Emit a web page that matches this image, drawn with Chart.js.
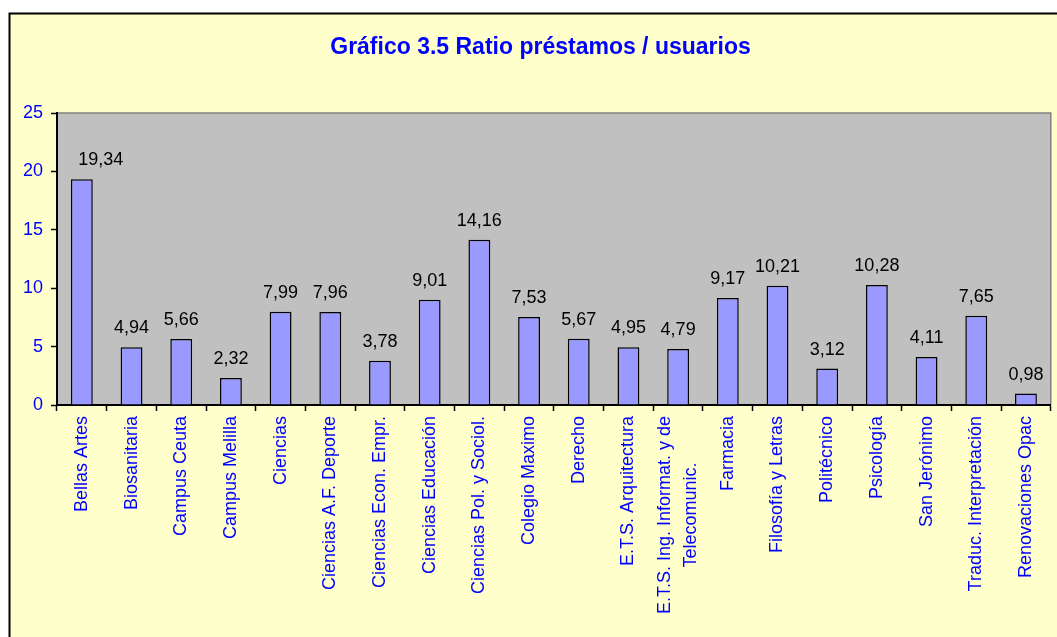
<!DOCTYPE html>
<html>
<head>
<meta charset="utf-8">
<script src="https://cdn.jsdelivr.net/npm/chart.js@4/dist/chart.umd.min.js"></script>
<style>
html,body{margin:0;padding:0;background:#fff;}
canvas{display:block;}
</style>
</head>
<body>
<canvas id="c" width="1057" height="637"></canvas>
<script>
const titleText = "Gráfico 3.5 Ratio préstamos / usuarios";
const categories = ["Bellas Artes","Biosanitaria","Campus Ceuta","Campus Melilla","Ciencias","Ciencias A.F. Deporte","Ciencias Econ. Empr.","Ciencias Educación","Ciencias Pol. y Sociol.","Colegio Maximo","Derecho","E.T.S. Arquitectura",["E.T.S. Ing. Informat. y de","Telecomunic."],"Farmacia","Filosofía y Letras","Politécnico","Psicología","San Jerónimo","Traduc. Interpretación","Renovaciones Opac"];
const ratios = [19.34,4.94,5.66,2.32,7.99,7.96,3.78,9.01,14.16,7.53,5.67,4.95,4.79,9.17,10.21,3.12,10.28,4.11,7.65,0.98];
const yMin = 0, yMax = 25, yStep = 5;

const FONT = "'Liberation Sans', Arial, sans-serif";
const X_LINE_H = 26;

const framePlugin = {
  id: 'frame',
  afterLayout(chart) {
    // let the y tick labels extend left of the padded layout box
    const ys = chart.scales.y;
    if (ys) ys.left = 0;
  },
  beforeDraw(chart) {
    const ctx = chart.ctx, a = chart.chartArea;
    ctx.save();
    ctx.fillStyle = '#ffffff';
    ctx.fillRect(0, 0, chart.width, chart.height);
    ctx.fillStyle = '#FFFFCC';
    ctx.fillRect(9.5, 13.5, chart.width + 20, chart.height + 20);
    ctx.strokeStyle = '#000';
    ctx.lineWidth = 2;
    ctx.strokeRect(9.5, 13.5, chart.width + 20, chart.height + 20);
    ctx.fillStyle = '#C0C0C0';
    ctx.fillRect(a.left, a.top, a.right - a.left, a.bottom - a.top);
    ctx.strokeStyle = '#808080';
    ctx.lineWidth = 1.5;
    ctx.beginPath();
    ctx.moveTo(a.left, a.top);
    ctx.lineTo(a.right, a.top);
    ctx.lineTo(a.right, a.bottom);
    ctx.stroke();
    ctx.restore();

    // centre multi-line rotated category labels like the original
    try {
      const xs = chart.scales.x;
      const items = xs.getLabelItems(a);
      ctx.save();
      ctx.font = '18px ' + FONT;
      items.forEach(it => {
        if (Array.isArray(it.label) && it.label.length > 1 && !it._adj) {
          const w1 = ctx.measureText(it.label[0]).width;
          const n = it.label.length;
          it.options.translation[0] -= (n - 1) * X_LINE_H / 2;
          it.options.translation[1] += w1 / 2;
          it.options.textAlign = 'center';
          it._adj = true;
        }
      });
      ctx.restore();
    } catch (e) {}
  }
};

const valueLabels = {
  id: 'valueLabels',
  afterDatasetsDraw(chart, args, opts) {
    const ctx = chart.ctx;
    const meta = chart.getDatasetMeta(0);
    ctx.save();
    ctx.font = '18px ' + FONT;
    ctx.fillStyle = '#000';
    ctx.textAlign = 'center';
    ctx.textBaseline = 'alphabetic';
    meta.data.forEach((bar, i) => {
      const v = chart.data.datasets[0].data[i];
      const dx = (opts.shift && opts.shift[i]) || 0;
      ctx.fillText(v.toFixed(2).replace('.', ','), bar.x + dx, bar.y - 14);
    });
    ctx.restore();
  }
};

new Chart(document.getElementById('c'), {
  type: 'bar',
  data: {
    labels: categories,
    datasets: [{
      data: ratios,
      backgroundColor: '#9999FF',
      borderColor: '#000000',
      borderWidth: 1.5,
      barPercentage: 0.44,
      categoryPercentage: 1.0
    }]
  },
  options: {
    responsive: false,
    animation: false,
    devicePixelRatio: 1,
    layout: { padding: { left: 26, right: 2, top: 0, bottom: 0 } },
    plugins: {
      legend: { display: false },
      tooltip: { enabled: false },
      title: {
        display: true,
        text: titleText,
        color: '#0000FF',
        font: { family: FONT, size: 23, weight: 'bold', lineHeight: 1.2 },
        padding: { top: 33.5, bottom: 52 }
      },
      valueLabels: { shift: { 0: 19 } }
    },
    scales: {
      x: {
        grid: { display: true, drawOnChartArea: false, offset: true, tickLength: 6, tickColor: '#000', tickWidth: 1.5 },
        border: { color: '#000', width: 2 },
        ticks: {
          color: '#0000FF',
          font: { family: FONT, size: 18, lineHeight: X_LINE_H / 18 },
          maxRotation: 90, minRotation: 90,
          autoSkip: false,
          padding: 5
        },
        afterFit(scale) { scale.height = 232; }
      },
      y: {
        min: yMin, max: yMax,
        grid: { display: true, drawOnChartArea: false, tickLength: 6, tickColor: '#000', tickWidth: 1.5 },
        border: { color: '#000', width: 2 },
        ticks: {
          stepSize: yStep,
          color: '#0000FF',
          font: { family: FONT, size: 18 },
          padding: 8
        },
        afterFit(scale) { scale.width = 31; }
      }
    }
  },
  plugins: [framePlugin, valueLabels]
});
</script>
</body>
</html>
